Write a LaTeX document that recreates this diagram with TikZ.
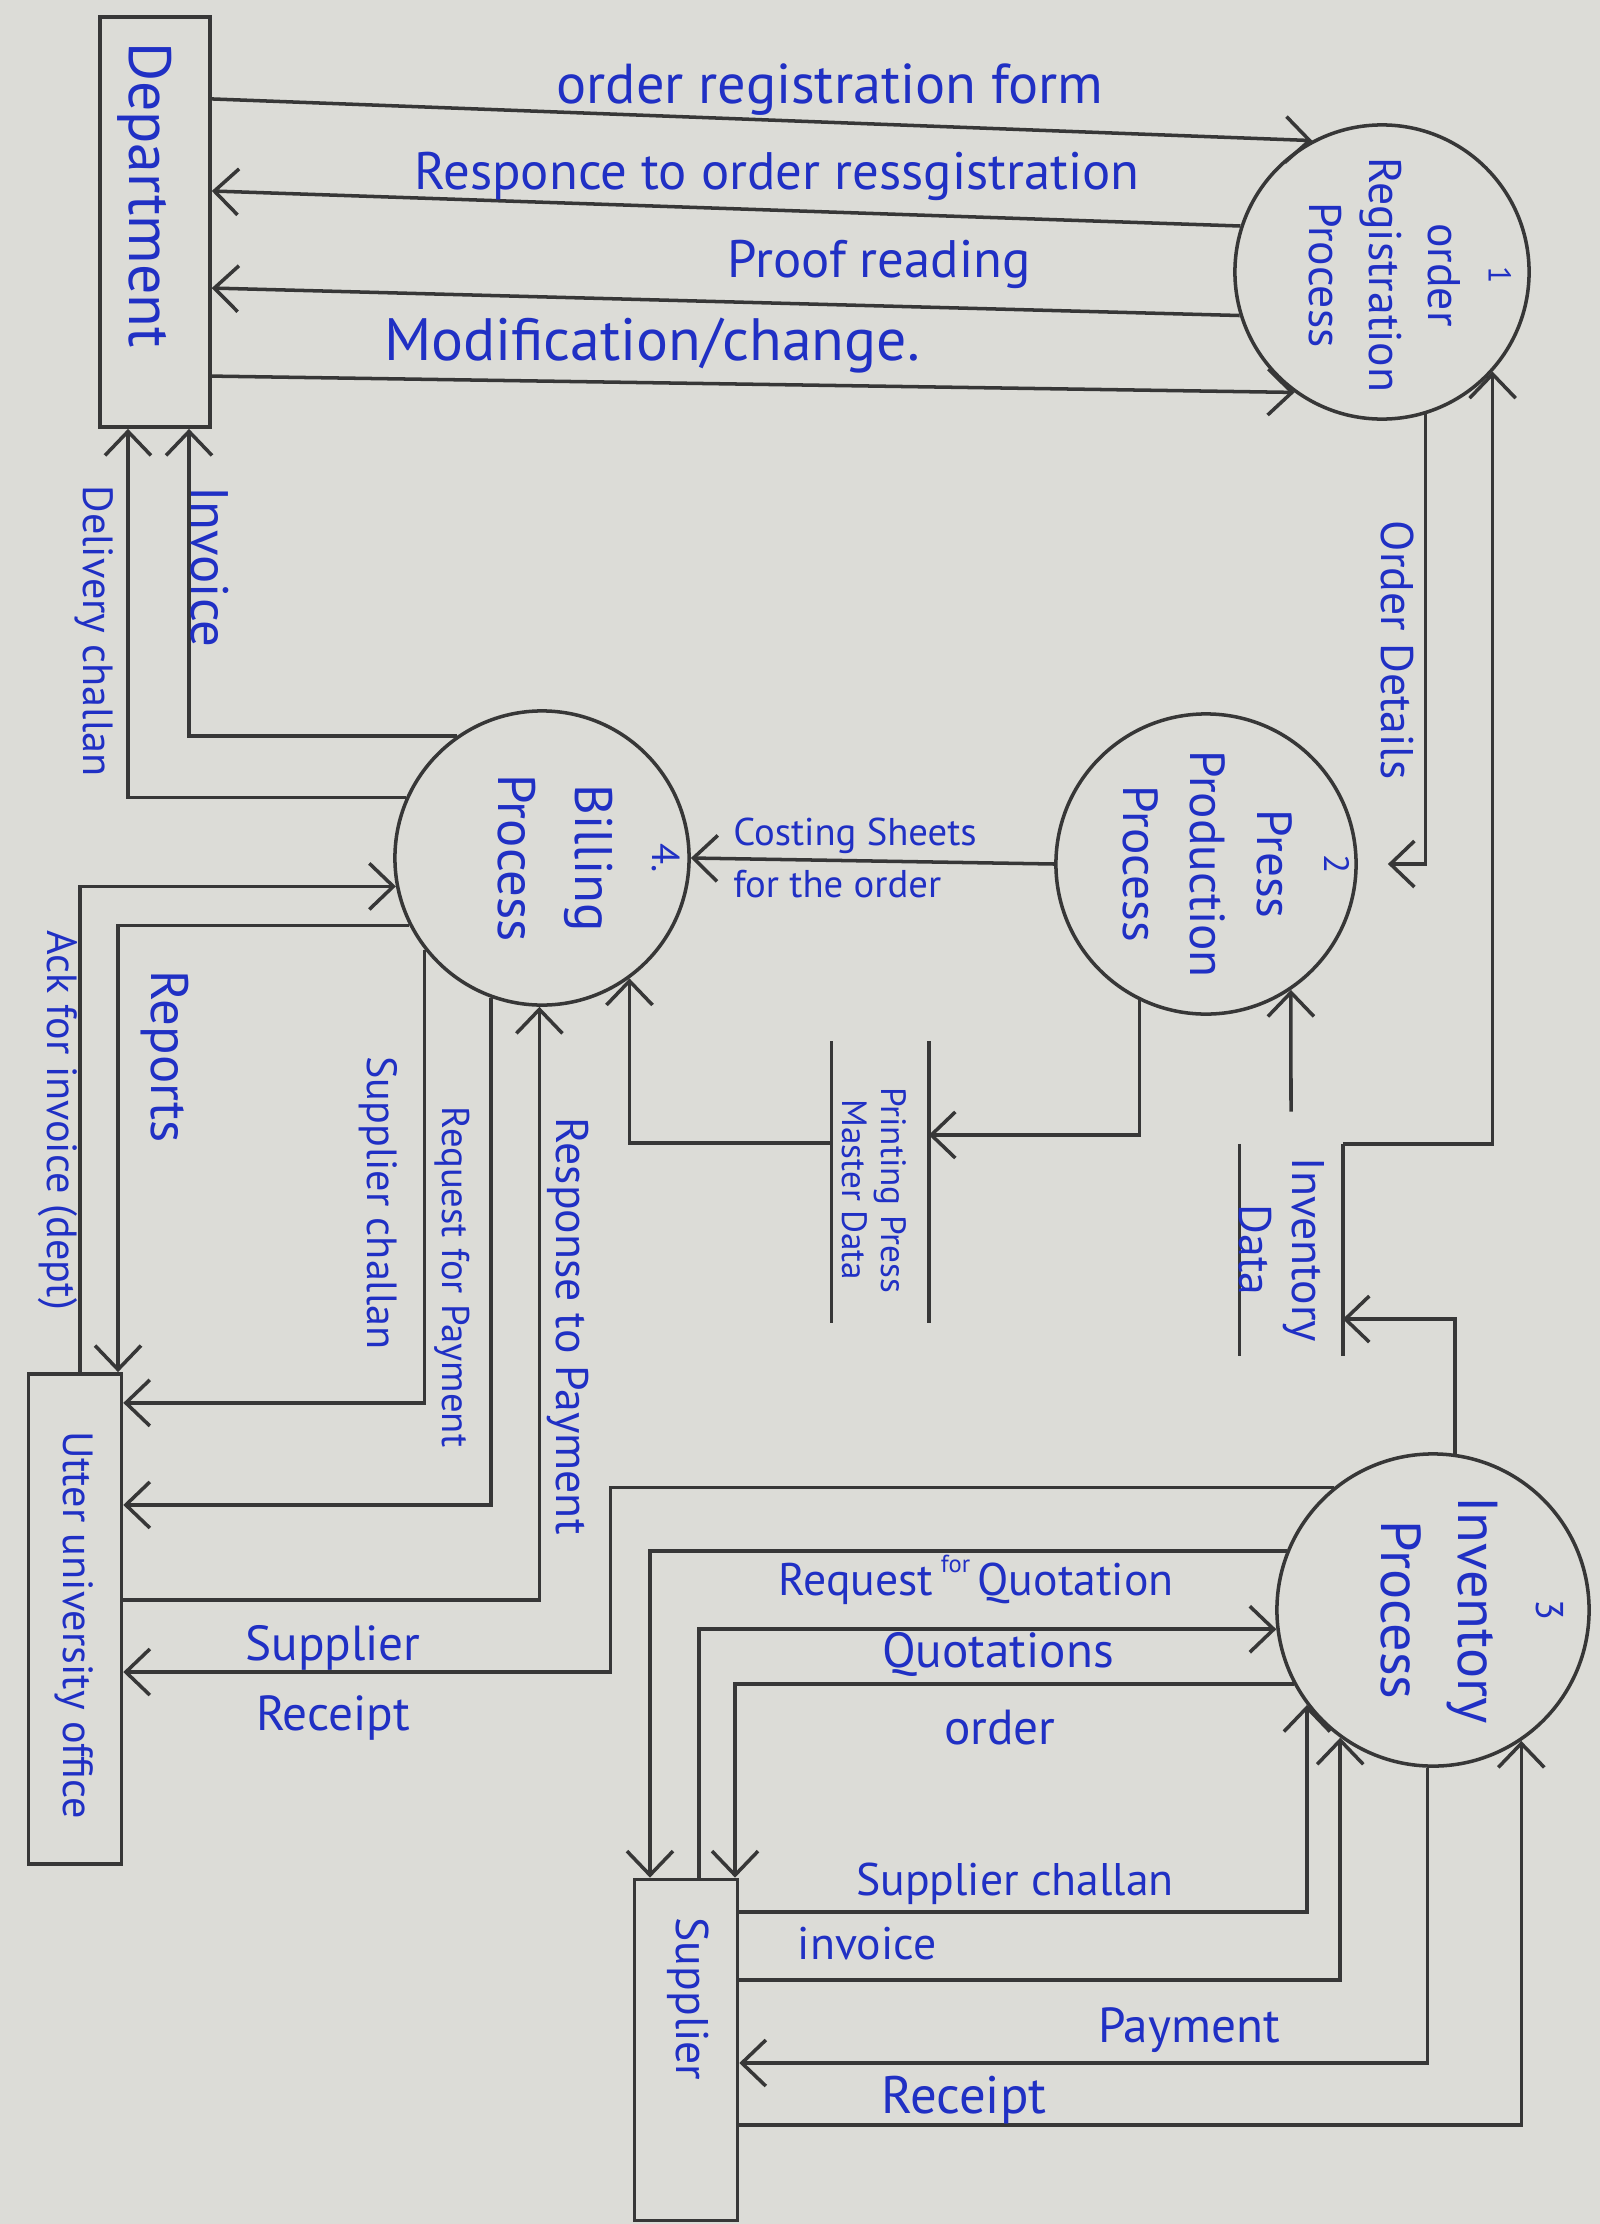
\documentclass[tikz,border=0pt]{standalone}
\usepackage{fontspec}
\setmainfont{PT Sans}
\usetikzlibrary{arrows.meta}
\definecolor{paper}{RGB}{220,220,215}
\definecolor{ink}{RGB}{32,48,196}
\definecolor{pencil}{RGB}{55,55,55}
\newcommand{\pen}[2]{\fontsize{#1}{#2}\selectfont}
\tikzset{
  proc/.style={circle,draw=pencil,line width=1pt,minimum size=2.94cm,inner sep=0pt},
  entity/.style={rectangle,draw=pencil,line width=1pt,inner sep=0pt},
  store/.style={rectangle,inner sep=0pt},
  flow/.style={draw=pencil,line width=1pt,-{Straight Barb[length=2.4mm,width=4.6mm]}},
  lbl/.style={text=ink,inner sep=1pt},
  vlbl/.style={lbl,rotate=-90},
  ptxt/.style={text=ink,rotate=-90,align=center,inner sep=0pt},
}

\begin{document}
\begin{tikzpicture}[x=0.01cm,y=-0.01cm]
\fill[paper] (0,0) rectangle (1600,2224);
\useasboundingbox (0,0) rectangle (1600,2224);

% external entities
\node[entity,minimum width=1.1cm,minimum height=4.1cm] (dept) at (155,222) {};
\node[vlbl,font=\pen{17}{20}] (dept-t) at (145,195) {Department};
\node[entity,minimum width=0.93cm,minimum height=4.9cm] (uuo) at (75,1619) {};
\node[vlbl,font=\pen{12}{14}] (uuo-t) at (74,1625) {Utter university office};
\node[entity,minimum width=1.03cm,minimum height=3.41cm] (sup) at (686,2050) {};
\node[vlbl,font=\pen{13}{15}] (sup-t) at (688,1999) {Supplier};

% processes
\node[proc] (orp) at (1382,272) {};
\node[ptxt,font=\pen{13}{17}] (orp-t) at (1410,275) {{\pen{9}{17}1}\\order\\Registration\\Process};
\node[proc,minimum size=3cm] (pp) at (1206,864) {};
\node[ptxt,font=\pen{14}{19}] (pp-t) at (1236,864) {{\pen{10}{19}2}\\Press\\Production\\Process};
\node[proc] (bp) at (542,858) {};
\node[ptxt,font=\pen{15}{22}] (bp-t) at (589,858) {{\pen{11}{22}4.}\\Billing\\Process};
\node[proc,minimum size=3.12cm] (inv) at (1433,1610) {};
\node[ptxt,font=\pen{16}{22}] (inv-t) at (1472,1610) {{\pen{11}{22}3}\\Inventory\\Process};

% data stores
\node[store,minimum width=1.02cm,minimum height=2.11cm] (ids) at (1291,1250) {};
\draw[pencil,line width=1pt] (ids.north west) -- (ids.south west) (ids.north east) -- (ids.south east);
\node[ptxt,font=\pen{13}{15}] (ids-t) at (1282,1250) {Inventory\\Data};
\node[store,minimum width=0.96cm,minimum height=2.8cm] (ppmd) at (880,1182) {};
\draw[pencil,line width=1pt] (ppmd.north west) -- (ppmd.south west) (ppmd.north east) -- (ppmd.south east);
\node[ptxt,font=\pen{10}{11}] (ppmd-t) at (874,1190) {Printing Press\\Master Data};

% department <-> order registration
\draw[flow] ([yshift=1.23cm]dept.east) -- (orp.118);
\draw[flow] (orp.162) -- ([yshift=0.31cm]dept.east);
\draw[flow] (orp.197) -- ([yshift=-0.66cm]dept.east);
\draw[flow] ([yshift=-1.54cm]dept.east) -- (orp.234);
\node[lbl,font=\pen{16}{18}] (l-orf) at (830,90) {order registration form};
\node[lbl,font=\pen{15}{18}] (l-resp) at (777,176) {Responce to order ressgistration};
\node[lbl,font=\pen{15}{18}] (l-proof) at (879,264) {Proof reading};
\node[lbl,font=\pen{17}{20}] (l-mod) at (652,346) {Modification/change.};

% order registration / press production / stores
\draw[flow,shorten >=0.3cm] (orp.287) |- (pp.east);
\node[vlbl,font=\pen{13}{15}] (l-od) at (1397,650) {Order Details};
\draw[flow] (ids.north east) -| (orp.-42);
\draw[flow] ([yshift=0.32cm]ids.north) -- (pp.-56);
\draw[flow] (inv.82) |- ([yshift=-0.69cm]ids.east);
\draw[flow] (pp.244) |- ([yshift=0.47cm]ppmd.east);
\draw[flow] ([yshift=0.39cm]ppmd.west) -| (bp.-54);
\draw[flow] (pp.west) -- (bp.east);
\node[lbl,font=\pen{11}{15},align=left] (l-cost) at (855,858) {Costing Sheets\\for the order};

% billing <-> department
\draw[flow] (bp.125) -| ([xshift=0.34cm]dept.south);
\draw[flow] (bp.156) -| ([xshift=-0.27cm]dept.south);
\node[vlbl,font=\pen{15}{18}] (l-inv) at (210,567) {Invoice};
\node[vlbl,font=\pen{12}{14}] (l-dc) at (94,631) {Delivery challan};

% billing <-> university office
\draw[flow] ([xshift=0.05cm]uuo.north) |- (bp.191);
\draw[flow] (bp.207) -| ([xshift=0.43cm]uuo.north);
\draw[flow] (bp.218) |- ([yshift=2.16cm]uuo.east);
\draw[flow] (bp.250) |- ([yshift=1.14cm]uuo.east);
\draw[flow] ([yshift=0.19cm]uuo.east) -| (bp.-91);
\node[vlbl,font=\pen{12}{14}] (l-ack) at (58,1120) {Ack for invoice (dept)};
\node[vlbl,font=\pen{15}{18}] (l-rep) at (165,1057) {Reports};
\node[vlbl,font=\pen{12}{14}] (l-sc) at (378,1203) {Supplier challan};
\node[vlbl,font=\pen{11}{13}] (l-rfp) at (452,1277) {Request for Payment};
\node[vlbl,font=\pen{13}{15}] (l-rtp) at (568,1326) {Response to Payment};

% inventory <-> university office
\draw[flow] (inv.129) -- ++(-723,0) |- ([yshift=-0.53cm]uuo.east);
\node[lbl,font=\pen{14}{20},align=center] (l-sr) at (333,1683) {Supplier\\Receipt};

% inventory <-> supplier
\draw[flow] (inv.158) -| ([xshift=-0.36cm]sup.north);
\draw[flow] ([xshift=0.13cm]sup.north) |- (inv.187);
\draw[flow] (inv.208) -| ([xshift=0.49cm]sup.north);
\draw[flow] ([yshift=1.38cm]sup.east) -| (inv.217);
\draw[flow] ([yshift=0.70cm]sup.east) -| (inv.234);
\draw[flow] (inv.268) |- ([yshift=-0.13cm]sup.east);
\draw[flow] ([yshift=-0.75cm]sup.east) -| (inv.304);
\node[lbl,font=\pen{13}{15}] (l-rfq) at (976,1580) {Request\,\raisebox{1.0ex}{\pen{7}{8}for}\,Quotation};
\node[lbl,font=\pen{14}{16}] (l-quo) at (998,1654) {Quotations};
\node[lbl,font=\pen{14}{16}] (l-ord) at (1000,1728) {order};
\node[lbl,font=\pen{13}{15}] (l-sc2) at (1015,1884) {Supplier challan};
\node[lbl,font=\pen{13}{15}] (l-invc) at (867,1944) {invoice};
\node[lbl,font=\pen{14}{16}] (l-pay) at (1189,2030) {Payment};
\node[lbl,font=\pen{15}{18}] (l-rec) at (964,2100) {Receipt};
\end{tikzpicture}
\end{document}
